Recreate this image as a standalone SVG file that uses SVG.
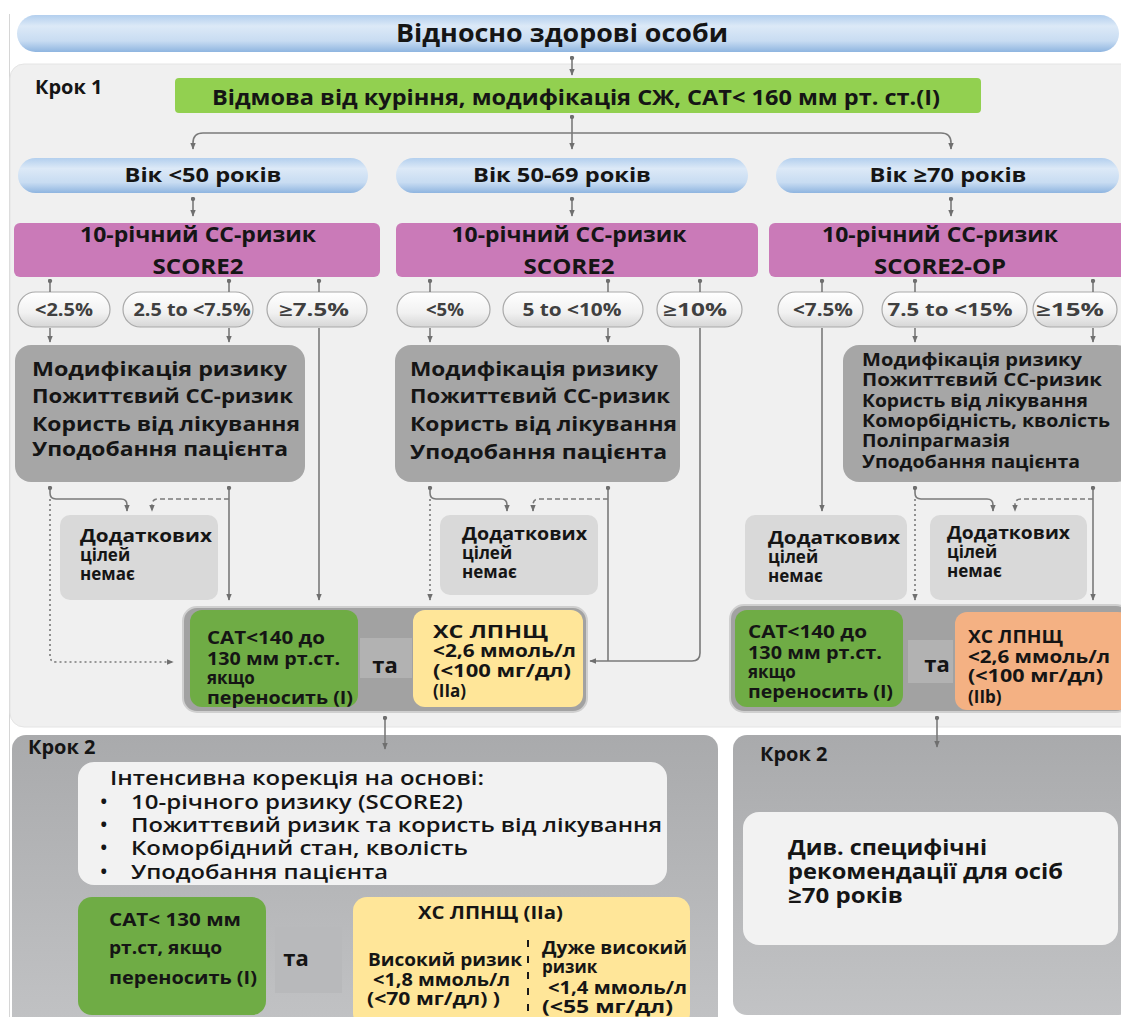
<svg xmlns="http://www.w3.org/2000/svg" width="1121" height="1017" viewBox="0 0 1121 1017">
<defs>
<style>
.t{font-family:"Open Sans","Noto Sans","DejaVu Sans",sans-serif;font-weight:700;fill:#151515}
.s{font-weight:600}
.c{text-anchor:middle}
.pl{font-size:17px;font-weight:700;fill:#404040}
.conn path{fill:none;stroke:#7a7a7a;stroke-width:1.6}
.dot{stroke-dasharray:2 3}
.dash{stroke-dasharray:5 3}
.blue{fill:url(#gBlue)}
.mag{fill:#ca7ab8}
.gbox{fill:#a6a6a6}
.lbox{fill:#d9d9d9}
.pill{fill:url(#gPill);stroke:#a9a9a9;stroke-width:1.2}
.cont{fill:#a2a2a2;stroke:#cfcfcf;stroke-width:2}
.green{fill:#6fac45}
.yel{fill:#ffe699}
.ora{fill:#f4b183}
.step2{fill:url(#gStep2)}
.white{fill:#f2f2f2}
.ta{fill:#b2b2b2}
</style>
<linearGradient id="gBlue" x1="0" y1="0" x2="0" y2="1">
<stop offset="0" stop-color="#b3cfee"/>
<stop offset="0.3" stop-color="#dce9f7"/>
<stop offset="0.7" stop-color="#c8dcf2"/>
<stop offset="1" stop-color="#8fb5e0"/>
</linearGradient>
<linearGradient id="gPill" x1="0" y1="0" x2="0" y2="1">
<stop offset="0" stop-color="#ffffff"/>
<stop offset="0.6" stop-color="#f1f1f1"/>
<stop offset="1" stop-color="#d6d6d6"/>
</linearGradient>
<linearGradient id="gStep2" x1="0" y1="0" x2="0" y2="1">
<stop offset="0" stop-color="#a9aaac"/>
<stop offset="1" stop-color="#c2c3c5"/>
</linearGradient>
<marker id="ah" viewBox="0 0 10 10" refX="9" refY="5" markerWidth="7" markerHeight="7" markerUnits="userSpaceOnUse" orient="auto">
<path d="M0,1 L10,5 L0,9 z" fill="#6f6f6f"/>
</marker>
<marker id="tk" viewBox="0 0 6 6" refX="3" refY="3" markerWidth="5" markerHeight="5" markerUnits="userSpaceOnUse">
<circle cx="3" cy="3" r="2.6" fill="#6f6f6f"/>
</marker>
</defs>

<rect width="1121" height="1017" fill="#ffffff"/>
<line x1="9.5" y1="14" x2="9.5" y2="1017" stroke="#d6d6d6" stroke-width="1"/>

<!-- panels -->
<g id="panel-step1">
<rect x="10" y="64" width="1125" height="663" rx="14" fill="#f0f0f0" stroke="#e4e4e4"/>
<text class="t" x="35" y="94" font-size="20">Крок 1</text>
</g>
<g id="panel-step2-left">
<rect x="12" y="735" width="706" height="300" rx="14" class="step2"/>
<text class="t" x="28" y="754" font-size="20">Крок 2</text>
</g>
<g id="panel-step2-right">
<rect x="733" y="735" width="400" height="280" rx="14" class="step2"/>
<text class="t" x="760" y="761" font-size="20">Крок 2</text>
</g>

<!-- top -->
<g id="n-top">
<rect x="17" y="15" width="1102" height="37" rx="18.5" class="blue"/>
<text class="t c" x="562" y="42" font-size="25" textLength="332" lengthAdjust="spacingAndGlyphs">Відносно здорові особи</text>
</g>
<g id="n-lifestyle">
<rect x="175" y="78" width="806" height="35" rx="4" fill="#92d050"/>
<text class="t c" x="576" y="105" font-size="21" textLength="728" lengthAdjust="spacingAndGlyphs">Відмова від куріння, модифікація СЖ, САТ&lt; 160 мм рт. ст.(І)</text>
</g>

<!-- ages -->
<g id="n-age1">
<rect x="18" y="158" width="350" height="35" rx="17.5" class="blue"/>
<text class="t c" x="203" y="182" font-size="20" textLength="157" lengthAdjust="spacingAndGlyphs">Вік &lt;50 років</text>
</g>
<g id="n-age2">
<rect x="396" y="158" width="352" height="35" rx="17.5" class="blue"/>
<text class="t c" x="562" y="182" font-size="20" textLength="178" lengthAdjust="spacingAndGlyphs">Вік 50-69 років</text>
</g>
<g id="n-age3">
<rect x="776" y="158" width="343" height="35" rx="17.5" class="blue"/>
<text class="t c" x="948" y="182" font-size="20" textLength="157" lengthAdjust="spacingAndGlyphs">Вік ≥70 років</text>
</g>

<!-- SCORE boxes -->
<g id="n-score1">
<rect x="14" y="223" width="366" height="54" rx="6" class="mag"/>
<text class="t c" x="198" y="242" font-size="21" textLength="236" lengthAdjust="spacingAndGlyphs">10-річний СС-ризик</text>
<text class="t c" x="198" y="274" font-size="21" textLength="91" lengthAdjust="spacingAndGlyphs">SCORE2</text>
</g>
<g id="n-score2">
<rect x="396" y="223" width="362" height="54" rx="6" class="mag"/>
<text class="t c" x="569" y="242" font-size="21" textLength="235" lengthAdjust="spacingAndGlyphs">10-річний СС-ризик</text>
<text class="t c" x="569" y="274" font-size="21" textLength="91" lengthAdjust="spacingAndGlyphs">SCORE2</text>
</g>
<g id="n-score3">
<rect x="769" y="223" width="362" height="54" rx="6" class="mag"/>
<text class="t c" x="940" y="242" font-size="21" textLength="236" lengthAdjust="spacingAndGlyphs">10-річний СС-ризик</text>
<text class="t c" x="940" y="274" font-size="21" textLength="132" lengthAdjust="spacingAndGlyphs">SCORE2-OP</text>
</g>

<!-- risk pills -->
<g id="n-p1a"><rect x="18" y="292" width="92" height="35" rx="17.5" class="pill"/><text class="t pl c" x="64" y="316" textLength="58" lengthAdjust="spacingAndGlyphs">&lt;2.5%</text></g>
<g id="n-p1b"><rect x="123" y="292" width="130" height="35" rx="17.5" class="pill"/><text class="t pl c" x="192" y="316" textLength="117" lengthAdjust="spacingAndGlyphs">2.5 to &lt;7.5%</text></g>
<g id="n-p1c"><rect x="267" y="292" width="100" height="35" rx="17.5" class="pill"/><text class="t pl c" x="314" y="316" textLength="70" lengthAdjust="spacingAndGlyphs">≥7.5%</text></g>
<g id="n-p2a"><rect x="397" y="292" width="93" height="35" rx="17.5" class="pill"/><text class="t pl c" x="445" y="316" textLength="38" lengthAdjust="spacingAndGlyphs">&lt;5%</text></g>
<g id="n-p2b"><rect x="503" y="292" width="140" height="35" rx="17.5" class="pill"/><text class="t pl c" x="572" y="316" textLength="99" lengthAdjust="spacingAndGlyphs">5 to &lt;10%</text></g>
<g id="n-p2c"><rect x="657" y="292" width="85" height="35" rx="17.5" class="pill"/><text class="t pl c" x="695" y="316" textLength="64" lengthAdjust="spacingAndGlyphs">≥10%</text></g>
<g id="n-p3a"><rect x="778" y="292" width="85" height="35" rx="17.5" class="pill"/><text class="t pl c" x="823" y="316" textLength="60" lengthAdjust="spacingAndGlyphs">&lt;7.5%</text></g>
<g id="n-p3b"><rect x="882" y="292" width="145" height="35" rx="17.5" class="pill"/><text class="t pl c" x="950" y="316" textLength="125" lengthAdjust="spacingAndGlyphs">7.5 to &lt;15%</text></g>
<g id="n-p3c"><rect x="1033" y="292" width="84" height="35" rx="17.5" class="pill"/><text class="t pl c" x="1070" y="316" textLength="68" lengthAdjust="spacingAndGlyphs">≥15%</text></g>

<!-- gray boxes -->
<g id="n-mod1">
<rect x="15" y="345" width="290" height="137" rx="16" class="gbox"/>
<text class="t" x="32" y="376" font-size="20" textLength="255" lengthAdjust="spacingAndGlyphs">Модифікація ризику</text>
<text class="t" x="32" y="403" font-size="20" textLength="261" lengthAdjust="spacingAndGlyphs">Пожиттєвий СС-ризик</text>
<text class="t" x="32" y="431" font-size="20" textLength="268" lengthAdjust="spacingAndGlyphs">Користь від лікування</text>
<text class="t" x="32" y="456" font-size="20" textLength="256" lengthAdjust="spacingAndGlyphs">Уподобання пацієнта</text>
</g>
<g id="n-mod2">
<rect x="395" y="345" width="285" height="137" rx="16" class="gbox"/>
<text class="t" x="410" y="376" font-size="20" textLength="248" lengthAdjust="spacingAndGlyphs">Модифікація ризику</text>
<text class="t" x="410" y="403" font-size="20" textLength="260" lengthAdjust="spacingAndGlyphs">Пожиттєвий СС-ризик</text>
<text class="t" x="410" y="431" font-size="20" textLength="267" lengthAdjust="spacingAndGlyphs">Користь від лікування</text>
<text class="t" x="410" y="459" font-size="20" textLength="257" lengthAdjust="spacingAndGlyphs">Уподобання пацієнта</text>
</g>
<g id="n-mod3">
<rect x="843" y="345" width="290" height="137" rx="16" class="gbox"/>
<text class="t" x="862" y="366" font-size="17" textLength="220" lengthAdjust="spacingAndGlyphs">Модифікація ризику</text>
<text class="t" x="862" y="386" font-size="17" textLength="240" lengthAdjust="spacingAndGlyphs">Пожиттєвий СС-ризик</text>
<text class="t" x="862" y="407" font-size="17" textLength="226" lengthAdjust="spacingAndGlyphs">Користь від лікування</text>
<text class="t" x="862" y="427" font-size="17" textLength="248" lengthAdjust="spacingAndGlyphs">Коморбідність, кволість</text>
<text class="t" x="862" y="447" font-size="17" textLength="148" lengthAdjust="spacingAndGlyphs">Поліпрагмазія</text>
<text class="t" x="862" y="468" font-size="17" textLength="218" lengthAdjust="spacingAndGlyphs">Уподобання пацієнта</text>
</g>

<!-- no additional targets -->
<g id="n-none1">
<rect x="60" y="515" width="158" height="85" rx="10" class="lbox"/>
<text class="t" x="80" y="542" font-size="17" textLength="132" lengthAdjust="spacingAndGlyphs">Додаткових</text>
<text class="t" x="80" y="561" font-size="17">цілей</text>
<text class="t" x="80" y="580" font-size="17">немає</text>
</g>
<g id="n-none2">
<rect x="440" y="515" width="158" height="80" rx="10" class="lbox"/>
<text class="t" x="462" y="540" font-size="17" textLength="125" lengthAdjust="spacingAndGlyphs">Додаткових</text>
<text class="t" x="462" y="559" font-size="17">цілей</text>
<text class="t" x="462" y="578" font-size="17">немає</text>
</g>
<g id="n-none3">
<rect x="745" y="515" width="162" height="85" rx="10" class="lbox"/>
<text class="t" x="768" y="544" font-size="17" textLength="132" lengthAdjust="spacingAndGlyphs">Додаткових</text>
<text class="t" x="768" y="563" font-size="17">цілей</text>
<text class="t" x="768" y="582" font-size="17">немає</text>
</g>
<g id="n-none4">
<rect x="930" y="515" width="157" height="85" rx="10" class="lbox"/>
<text class="t" x="947" y="539" font-size="17" textLength="123" lengthAdjust="spacingAndGlyphs">Додаткових</text>
<text class="t" x="947" y="558" font-size="17">цілей</text>
<text class="t" x="947" y="577" font-size="17">немає</text>
</g>

<!-- targets step 1 left -->
<g id="n-target1">
<rect x="183" y="607" width="404" height="105" rx="14" class="cont"/>
<rect x="190" y="610" width="168" height="97" rx="12" class="green"/>
<rect x="360" y="638" width="52" height="40" class="ta"/>
<text class="t c" x="385" y="673" font-size="22">та</text>
<rect x="413" y="610" width="170" height="97" rx="12" class="yel"/>
<text class="t" x="207" y="644" font-size="17" textLength="118" lengthAdjust="spacingAndGlyphs">САТ&lt;140 до</text>
<text class="t" x="207" y="665" font-size="17" textLength="133" lengthAdjust="spacingAndGlyphs">130 мм рт.ст.</text>
<text class="t" x="207" y="684" font-size="17">якщо</text>
<text class="t" x="207" y="704" font-size="17" textLength="146" lengthAdjust="spacingAndGlyphs">переносить (І)</text>
<text class="t" x="433" y="638" font-size="17" textLength="115" lengthAdjust="spacingAndGlyphs">ХС ЛПНЩ</text>
<text class="t" x="433" y="657" font-size="17" textLength="143" lengthAdjust="spacingAndGlyphs">&lt;2,6 ммоль/л</text>
<text class="t" x="433" y="677" font-size="17" textLength="138" lengthAdjust="spacingAndGlyphs">(&lt;100  мг/дл)</text>
<text class="t" x="433" y="697" font-size="17">(IIa)</text>
</g>

<!-- targets step 1 right -->
<g id="n-target2">
<rect x="730" y="605" width="400" height="107" rx="14" class="cont"/>
<rect x="735" y="610" width="168" height="97" rx="12" class="green"/>
<rect x="908" y="640" width="45" height="43" class="ta"/>
<text class="t c" x="937" y="672" font-size="22">та</text>
<rect x="955" y="612" width="175" height="98" rx="12" class="ora"/>
<text class="t" x="748" y="638" font-size="17" textLength="119" lengthAdjust="spacingAndGlyphs">САТ&lt;140 до</text>
<text class="t" x="748" y="659" font-size="17" textLength="134" lengthAdjust="spacingAndGlyphs">130 мм рт.ст.</text>
<text class="t" x="748" y="678" font-size="17">якщо</text>
<text class="t" x="748" y="698" font-size="17" textLength="145" lengthAdjust="spacingAndGlyphs">переносить (І)</text>
<text class="t" x="968" y="643" font-size="17" textLength="95" lengthAdjust="spacingAndGlyphs">ХС ЛПНЩ</text>
<text class="t" x="968" y="663" font-size="17" textLength="142" lengthAdjust="spacingAndGlyphs">&lt;2,6 ммоль/л</text>
<text class="t" x="968" y="682" font-size="17" textLength="135" lengthAdjust="spacingAndGlyphs">(&lt;100  мг/дл)</text>
<text class="t" x="968" y="703" font-size="17">(IIb)</text>
</g>

<!-- step 2 left content -->
<g id="n-intensive">
<rect x="78" y="762" width="589" height="123" rx="16" class="white"/>
<text class="t s" x="110" y="785" font-size="20" textLength="374" lengthAdjust="spacingAndGlyphs">Інтенсивна корекція на основі:</text>
<text class="t s" x="100" y="809" font-size="20">•</text>
<text class="t s" x="131" y="809" font-size="20" textLength="332" lengthAdjust="spacingAndGlyphs">10-річного ризику (SCORE2)</text>
<text class="t s" x="100" y="832" font-size="20">•</text>
<text class="t s" x="131" y="832" font-size="20" textLength="531" lengthAdjust="spacingAndGlyphs">Пожиттєвий ризик та користь від лікування</text>
<text class="t s" x="100" y="855" font-size="20">•</text>
<text class="t s" x="131" y="855" font-size="20" textLength="337" lengthAdjust="spacingAndGlyphs">Коморбідний стан, кволість</text>
<text class="t s" x="100" y="879" font-size="20">•</text>
<text class="t s" x="131" y="879" font-size="20" textLength="257" lengthAdjust="spacingAndGlyphs">Уподобання пацієнта</text>
</g>
<g id="n-bp2">
<rect x="78" y="897" width="188" height="118" rx="14" class="green"/>
<text class="t" x="109" y="926" font-size="17" textLength="132" lengthAdjust="spacingAndGlyphs">САТ&lt; 130 мм</text>
<text class="t" x="109" y="954" font-size="17" textLength="113" lengthAdjust="spacingAndGlyphs">рт.ст, якщо</text>
<text class="t" x="109" y="984" font-size="17" textLength="148" lengthAdjust="spacingAndGlyphs">переносить (І)</text>
</g>
<g id="n-and2">
<rect x="275" y="927" width="67" height="66" fill="#b8b9bb"/>
<text class="t c" x="296" y="966" font-size="22">та</text>
</g>
<g id="n-ldl2">
<rect x="353" y="897" width="337" height="130" rx="14" class="yel"/>
<text class="t" x="418" y="919" font-size="18" textLength="145" lengthAdjust="spacingAndGlyphs">ХС ЛПНЩ (IIa)</text>
<text class="t" x="368" y="966" font-size="17" textLength="154" lengthAdjust="spacingAndGlyphs">Високий ризик</text>
<text class="t" x="373" y="986" font-size="17" textLength="137" lengthAdjust="spacingAndGlyphs">&lt;1,8 ммоль/л</text>
<text class="t" x="367" y="1005" font-size="17" textLength="133" lengthAdjust="spacingAndGlyphs">(&lt;70  мг/дл) )</text>
<line x1="528" y1="940" x2="528" y2="1017" stroke="#1a1a1a" stroke-width="2" stroke-dasharray="7 9"/>
<text class="t" x="542" y="954" font-size="17" textLength="145" lengthAdjust="spacingAndGlyphs">Дуже високий</text>
<text class="t" x="542" y="973" font-size="17">ризик</text>
<text class="t" x="548" y="994" font-size="17" textLength="139" lengthAdjust="spacingAndGlyphs">&lt;1,4 ммоль/л</text>
<text class="t" x="542" y="1013" font-size="17" textLength="131" lengthAdjust="spacingAndGlyphs">(&lt;55  мг/дл)</text>
</g>

<!-- step 2 right content -->
<g id="n-elderly">
<rect x="743" y="812" width="375" height="133" rx="16" class="white"/>
<text class="t" x="788" y="855" font-size="21" textLength="199" lengthAdjust="spacingAndGlyphs">Див. специфічні</text>
<text class="t" x="788" y="879" font-size="21" textLength="275" lengthAdjust="spacingAndGlyphs">рекомендації для осіб</text>
<text class="t" x="788" y="903" font-size="21" textLength="115" lengthAdjust="spacingAndGlyphs">≥70 років</text>
</g>

<!-- connectors -->
<g id="connectors" class="conn">
<path d="M572,58 V75" marker-start="url(#tk)" marker-end="url(#ah)"/>
<path d="M572,117 V149" marker-start="url(#tk)" marker-end="url(#ah)"/>
<path d="M572,133 H203 Q193,133 193,143 V149" marker-end="url(#ah)"/>
<path d="M572,133 H941 Q951,133 951,143 V149" marker-end="url(#ah)"/>
<path d="M193,199 V216" marker-start="url(#tk)" marker-end="url(#ah)"/>
<path d="M572,199 V216" marker-start="url(#tk)" marker-end="url(#ah)"/>
<path d="M951,199 V216" marker-start="url(#tk)" marker-end="url(#ah)"/>

<path d="M50,281 V292" marker-start="url(#tk)"/>
<path d="M229,281 V292" marker-start="url(#tk)"/>
<path d="M319,281 V292" marker-start="url(#tk)"/>
<path d="M430,281 V292" marker-start="url(#tk)"/>
<path d="M608,281 V292" marker-start="url(#tk)"/>
<path d="M700,281 V292" marker-start="url(#tk)"/>
<path d="M822,281 V292" marker-start="url(#tk)"/>
<path d="M915,281 V292" marker-start="url(#tk)"/>
<path d="M1093,281 V292" marker-start="url(#tk)"/>

<path d="M50,328 V342" marker-end="url(#ah)"/>
<path d="M229,328 V342" marker-end="url(#ah)"/>
<path d="M430,328 V342" marker-end="url(#ah)"/>
<path d="M608,328 V342" marker-end="url(#ah)"/>
<path d="M915,328 V342" marker-end="url(#ah)"/>
<path d="M1093,328 V342" marker-end="url(#ah)"/>

<path d="M319,328 V600" marker-end="url(#ah)"/>
<path d="M822,328 V511" marker-end="url(#ah)"/>
<path d="M700,328 V653 Q700,661 692,661 H590" marker-end="url(#ah)"/>
<path d="M608,488 V661" marker-start="url(#tk)"/>

<path d="M50,488 V493 Q50,499 56,499 H121 Q127,499 127,505 V511" marker-start="url(#tk)" marker-end="url(#ah)"/>
<path class="dash" d="M229,499 H158 Q152,499 152,505 V511" marker-end="url(#ah)"/>
<path d="M229,488 V600" marker-start="url(#tk)" marker-end="url(#ah)"/>
<path class="dot" d="M50,499 V656 Q50,662 56,662 H173" marker-end="url(#ah)"/>

<path d="M430,488 V493 Q430,499 436,499 H501 Q507,499 507,505 V511" marker-start="url(#tk)" marker-end="url(#ah)"/>
<path class="dash" d="M608,499 H539 Q533,499 533,505 V511" marker-end="url(#ah)"/>
<path class="dot" d="M430,499 V600" marker-end="url(#ah)"/>

<path d="M915,488 V493 Q915,499 921,499 H987 Q993,499 993,505 V511" marker-start="url(#tk)" marker-end="url(#ah)"/>
<path class="dash" d="M1093,499 H1021 Q1015,499 1015,505 V511" marker-end="url(#ah)"/>
<path class="dot" d="M915,499 V600" marker-end="url(#ah)"/>
<path d="M1093,488 V600" marker-start="url(#tk)" marker-end="url(#ah)"/>

<path d="M385,718 V749" marker-start="url(#tk)" marker-end="url(#ah)"/>
<path d="M937,718 V747" marker-start="url(#tk)" marker-end="url(#ah)"/>
</g>
</svg>
